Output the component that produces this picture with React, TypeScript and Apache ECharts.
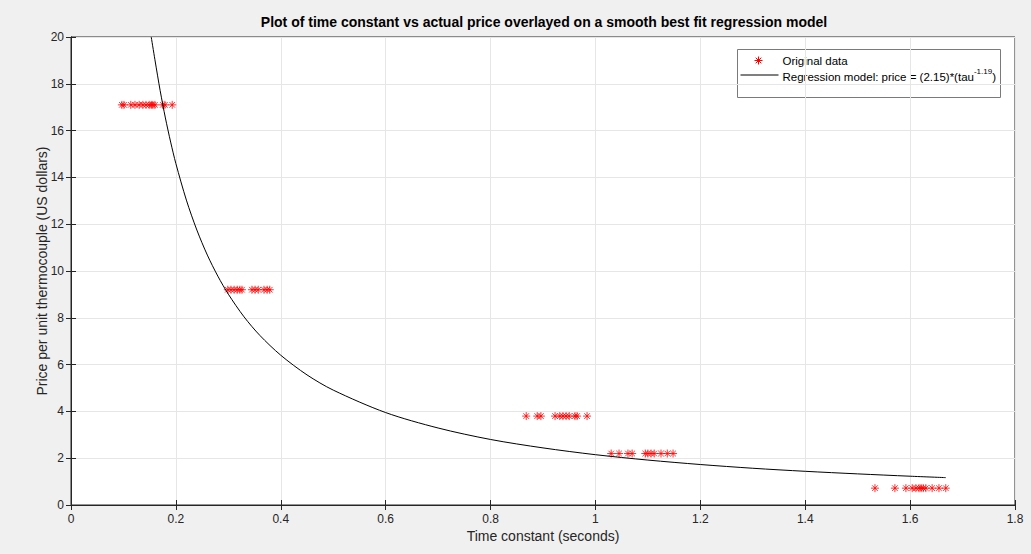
import React, { useEffect, useRef } from "react";
import * as echarts from "echarts";

const titleText = "Plot of time constant vs actual price overlayed on a smooth best fit regression model";
const xName = "Time constant (seconds)";
const yName = "Price per unit thermocouple (US dollars)";

// Original data: price levels and the time constants observed at each level
const priceLevels = [17.1, 9.2, 3.8, 2.2, 0.72];
const tauAt17 = [0.097, 0.101, 0.114, 0.122, 0.13, 0.137, 0.143, 0.149, 0.153, 0.156, 0.16, 0.175, 0.179, 0.193];
const tauAt9 = [0.299, 0.305, 0.311, 0.317, 0.322, 0.326, 0.345, 0.351, 0.357, 0.368, 0.374, 0.379];
const tauAt3 = [0.868, 0.889, 0.896, 0.923, 0.932, 0.938, 0.944, 0.95, 0.961, 0.965, 0.984];
const tauAt2 = [1.03, 1.045, 1.062, 1.07, 1.095, 1.1, 1.106, 1.112, 1.125, 1.137, 1.148];
const tauAt0 = [1.533, 1.571, 1.592, 1.604, 1.611, 1.617, 1.621, 1.625, 1.63, 1.642, 1.655, 1.668];

// Regression curve
const curveTau = [0.153, 0.16, 0.17, 0.18, 0.19, 0.2, 0.22, 0.24, 0.26, 0.28, 0.3, 0.33, 0.36, 0.4, 0.45, 0.5, 0.6, 0.7, 0.8, 0.9, 1.0, 1.1, 1.2, 1.3, 1.4, 1.5, 1.6, 1.668];
const curvePrice = [20.0, 19.03, 17.71, 16.54, 15.51, 14.59, 13.03, 11.75, 10.68, 9.78, 9.01, 8.04, 7.25, 6.4, 5.56, 4.91, 3.95, 3.29, 2.8, 2.44, 2.15, 1.92, 1.73, 1.57, 1.44, 1.33, 1.23, 1.17];

const xTicks = { min: 0, max: 1.8, interval: 0.2 };
const yTicks = { min: 0, max: 20, interval: 2 };

const FONT = "'Liberation Sans', Arial, Helvetica, sans-serif";
const STAR = "path://M0,-10L0,10M-10,0L10,0M-7,-7L7,7M-7,7L7,-7";

export default function App() {
  const ref = useRef<HTMLDivElement>(null);
  useEffect(() => {
    if (!ref.current) return;
    const chart = echarts.init(ref.current, undefined, { renderer: "svg" });
    const tauGroups = [tauAt17, tauAt9, tauAt3, tauAt2, tauAt0];
    const points: number[][] = [];
    tauGroups.forEach((g, i) => g.forEach((t) => points.push([t, priceLevels[i]])));
    const curve = curveTau.map((t, i) => [t, curvePrice[i]]);

    const axisCommon = {
      type: "value" as const,
      axisLine: { show: true, lineStyle: { color: "#262626", width: 1 } },
      axisTick: { show: true, inside: true, length: 5, lineStyle: { color: "#262626" } },
      splitLine: { show: true, lineStyle: { color: "#e6e6e6", width: 1 } },
      axisLabel: { color: "#262626", fontFamily: FONT, fontSize: 12, margin: 7 },
      nameTextStyle: { color: "#262626", fontFamily: FONT, fontSize: 14 },
    };

    chart.setOption({
      animation: false,
      backgroundColor: "#f0f0f0",
      title: {
        text: titleText,
        left: 539,
        textAlign: "center",
        top: 10,
        textStyle: { fontFamily: FONT, fontSize: 14, fontWeight: "bold", color: "#000" },
      },
      grid: {
        left: 71, right: 16, top: 37, bottom: 49,
        show: true, backgroundColor: "#ffffff", borderColor: "#262626", borderWidth: 1,
      },
      xAxis: [
        {
          ...axisCommon, ...xTicks,
          name: xName, nameLocation: "middle", nameGap: 24, nameMoveOverlap: false,
          axisLabel: { ...axisCommon.axisLabel, margin: 8 },
        },
        {
          ...axisCommon, ...xTicks, position: "top",
          axisLabel: { show: false }, splitLine: { show: false },
        },
      ],
      yAxis: [
        {
          ...axisCommon, ...yTicks,
          name: yName, nameLocation: "middle", nameGap: 22, nameMoveOverlap: false,
        },
        {
          ...axisCommon, ...yTicks, position: "right",
          axisLabel: { show: false }, splitLine: { show: false },
        },
      ],
      series: [
        {
          type: "scatter",
          data: points,
          symbol: STAR,
          symbolSize: 8,
          itemStyle: { color: "rgba(0,0,0,0)", borderColor: "#ff0000", borderWidth: 1 },
        },
        {
          type: "line",
          data: curve,
          showSymbol: false,
          smooth: 0.3,
          lineStyle: { color: "#000000", width: 1 },
        },
      ],
      graphic: [
        {
          type: "group",
          left: 737,
          top: 49,
          children: [
            { type: "rect", shape: { x: 0, y: 0, width: 263, height: 48 }, style: { fill: "#ffffff", stroke: "#7a7a7a", lineWidth: 1 } },
            { type: "line", shape: { x1: 21, y1: 7, x2: 21, y2: 15 }, style: { stroke: "#ff0000", lineWidth: 1 } },
            { type: "line", shape: { x1: 17, y1: 11, x2: 25, y2: 11 }, style: { stroke: "#ff0000", lineWidth: 1 } },
            { type: "line", shape: { x1: 18.2, y1: 8.2, x2: 23.8, y2: 13.8 }, style: { stroke: "#ff0000", lineWidth: 1 } },
            { type: "line", shape: { x1: 18.2, y1: 13.8, x2: 23.8, y2: 8.2 }, style: { stroke: "#ff0000", lineWidth: 1 } },
            { type: "text", x: 45, y: 11, style: { text: "Original data", font: "11.5px " + FONT, fill: "#000", verticalAlign: "middle" } },
            { type: "line", shape: { x1: 3, y1: 25.5, x2: 41, y2: 25.5 }, style: { stroke: "#000", lineWidth: 1 } },
            {
              type: "text", x: 45, y: 27,
              style: {
                text: "{a|Regression model: price = (2.15)*(tau}{s|-1.19}{a|)}",
                verticalAlign: "middle",
                rich: {
                  a: { fontFamily: FONT, fontSize: 11.5, fill: "#000", verticalAlign: "middle", lineHeight: 18 },
                  s: { fontFamily: FONT, fontSize: 8, fill: "#000", verticalAlign: "top", lineHeight: 9 },
                },
              },
            },
          ],
        },
      ],
    });
    return () => chart.dispose();
  }, []);
  return <div ref={ref} style={{ position: "fixed", left: 0, top: 0, width: 1031, height: 554 }} />;
}
